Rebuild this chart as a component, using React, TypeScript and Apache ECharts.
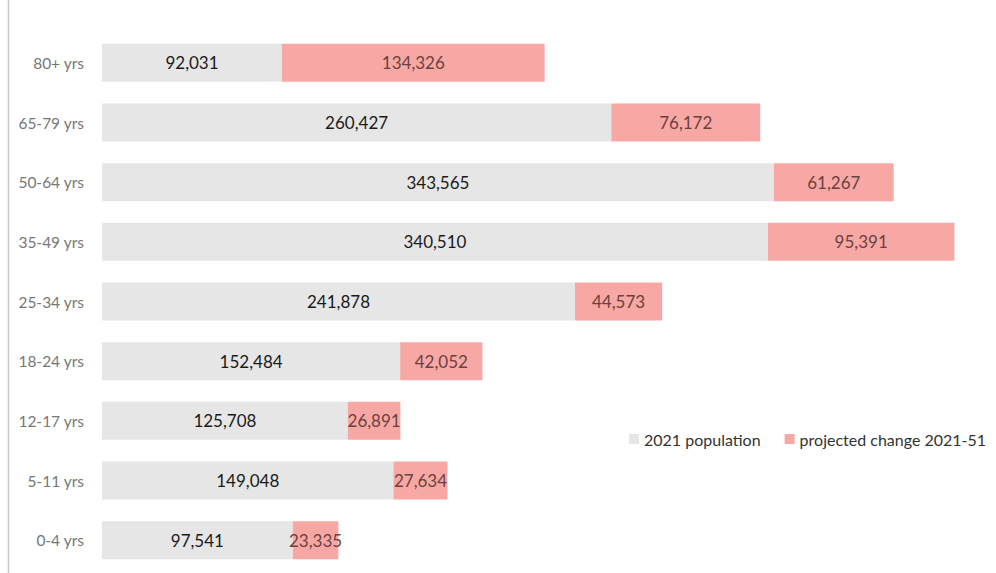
import React, { useEffect, useRef } from "react";
import * as echarts from "echarts";

const categories = ["0-4 yrs", "5-11 yrs", "12-17 yrs", "18-24 yrs", "25-34 yrs", "35-49 yrs", "50-64 yrs", "65-79 yrs", "80+ yrs"];
const population2021 = [97541, 149048, 125708, 152484, 241878, 340510, 343565, 260427, 92031];
const projectedChange = [23335, 27634, 26891, 42052, 44573, 95391, 61267, 76172, 134326];
const seriesNames = ["2021 population", "projected change 2021-51"];

const fmt = (v: number) => v.toLocaleString("en-US");

export default function App() {
  const ref = useRef<HTMLDivElement>(null);
  useEffect(() => {
    if (!ref.current) return;
    const chart = echarts.init(ref.current, undefined, { renderer: "svg" });
    const font = "Lato, 'Open Sans', sans-serif";
    chart.setOption({
      animation: false,
      backgroundColor: "#ffffff",
      textStyle: { fontFamily: font },
      grid: { left: 102, width: 880, top: 33, bottom: 3, containLabel: false },
      legend: {
        data: seriesNames,
        orient: "horizontal",
        left: 624,
        top: 426,
        width: 372,
        itemWidth: 10,
        itemHeight: 10,
        itemGap: 24,
        icon: "rect",
        textStyle: { fontSize: 16, color: "#333", fontFamily: font },
      },
      xAxis: {
        type: "value",
        min: 0,
        max: 450000,
        show: false,
      },
      yAxis: {
        type: "category",
        data: categories,
        axisLine: { show: false },
        axisTick: { show: false },
        axisLabel: { color: "#777", fontSize: 15.5, margin: 18, fontFamily: font },
      },
      graphic: [
        {
          type: "line",
          shape: { x1: 8.5, y1: 0, x2: 8.5, y2: 573 },
          style: { stroke: "#c8c8c8", lineWidth: 1.5 },
        },
      ],
      series: [
        {
          name: seriesNames[0],
          type: "bar",
          stack: "total",
          data: population2021,
          barWidth: 38,
          itemStyle: { color: "#e6e6e6" },
          label: {
            show: true,
            position: "inside",
            color: "#1a1a1a",
            fontSize: 17,
            fontFamily: font,
            formatter: (p: any) => fmt(p.value),
          },
        },
        {
          name: seriesNames[1],
          type: "bar",
          stack: "total",
          data: projectedChange,
          barWidth: 38,
          itemStyle: { color: "#f8a8a4" },
          label: {
            show: true,
            position: "inside",
            color: "#6b4040",
            fontSize: 17,
            fontFamily: font,
            formatter: (p: any) => fmt(p.value),
          },
        },
      ],
    });
    return () => chart.dispose();
  }, []);
  return (
    <div
      ref={ref}
      style={{ position: "absolute", left: 0, top: 0, width: 996, height: 573 }}
    />
  );
}
